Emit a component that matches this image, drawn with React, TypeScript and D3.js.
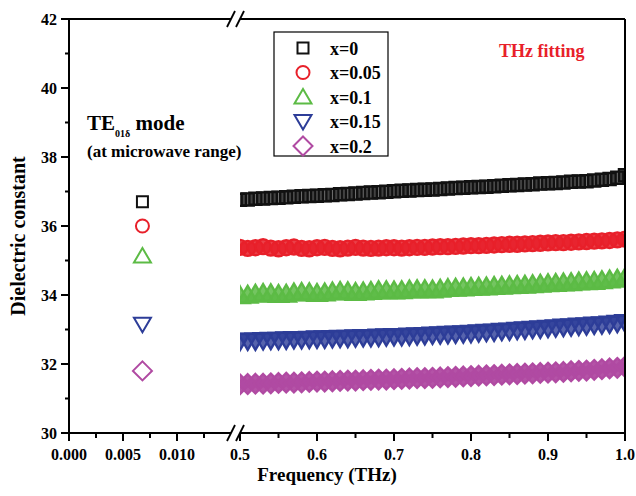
import React from "react";
import * as d3 from "d3";

// ---------- data ----------
const seriesLabels = ["x=0", "x=0.05", "x=0.1", "x=0.15", "x=0.2"];

// microwave (TE01δ) measurement, frequency in THz
const microwaveFreq = [0.0068, 0.0068, 0.0068, 0.0068, 0.0068];
const microwaveValues = [36.7, 36.0, 35.13, 33.15, 31.8];

// THz fitting frequencies
const thzFreq = [
  0.5, 0.51, 0.52, 0.53, 0.54, 0.55, 0.56, 0.57, 0.58, 0.59,
  0.6, 0.61, 0.62, 0.63, 0.64, 0.65, 0.66, 0.67, 0.68, 0.69,
  0.7, 0.71, 0.72, 0.73, 0.74, 0.75, 0.76, 0.77, 0.78, 0.79,
  0.8, 0.81, 0.82, 0.83, 0.84, 0.85, 0.86, 0.87, 0.88, 0.89,
  0.9, 0.91, 0.92, 0.93, 0.94, 0.95, 0.96, 0.97, 0.98, 0.99,
  1.0,
];

const thzX0 = [
  36.76, 36.77, 36.79, 36.8, 36.81, 36.82, 36.83, 36.85, 36.86, 36.87,
  36.88, 36.89, 36.9, 36.92, 36.93, 36.94, 36.96, 36.97, 36.98, 36.99,
  37.01, 37.02, 37.03, 37.04, 37.05, 37.06, 37.07, 37.09, 37.1, 37.11,
  37.12, 37.13, 37.14, 37.15, 37.17, 37.18, 37.19, 37.2, 37.21, 37.23,
  37.24, 37.25, 37.26, 37.28, 37.29, 37.3, 37.32, 37.34, 37.36, 37.4,
  37.47,
];
const thzX005 = [
  35.38, 35.35, 35.37, 35.4, 35.36, 35.34, 35.37, 35.39, 35.35, 35.34,
  35.37, 35.38, 35.35, 35.34, 35.36, 35.38, 35.36, 35.35, 35.36, 35.37,
  35.37, 35.36, 35.37, 35.38, 35.38, 35.39, 35.4, 35.4, 35.41, 35.42,
  35.43, 35.43, 35.44, 35.45, 35.46, 35.47, 35.47, 35.48, 35.49, 35.5,
  35.51, 35.52, 35.52, 35.53, 35.54, 35.55, 35.56, 35.57, 35.58, 35.6,
  35.62,
];
const thzX01 = [
  33.98, 34.0, 34.03, 34.05, 34.04, 34.02, 34.03, 34.06, 34.08, 34.07,
  34.05, 34.06, 34.09, 34.11, 34.1, 34.08, 34.09, 34.11, 34.13, 34.13,
  34.12, 34.13, 34.15, 34.16, 34.16, 34.15, 34.17, 34.19, 34.2, 34.21,
  34.22, 34.23, 34.24, 34.25, 34.26, 34.27, 34.28, 34.29, 34.3, 34.32,
  34.33, 34.34, 34.35, 34.36, 34.38, 34.39, 34.4, 34.42, 34.44, 34.46,
  34.5,
];
const thzX015 = [
  32.66, 32.67, 32.67, 32.68, 32.69, 32.69, 32.7, 32.71, 32.71, 32.72,
  32.73, 32.73, 32.74, 32.75, 32.75, 32.76, 32.77, 32.77, 32.78, 32.79,
  32.8, 32.8, 32.81, 32.82, 32.83, 32.84, 32.85, 32.86, 32.87, 32.88,
  32.89, 32.91, 32.92, 32.93, 32.95, 32.96, 32.98, 32.99, 33.01, 33.02,
  33.04, 33.05, 33.07, 33.08, 33.1, 33.11, 33.13, 33.14, 33.16, 33.18,
  33.2,
];
const thzX02 = [
  31.41, 31.42, 31.43, 31.43, 31.44, 31.45, 31.46, 31.46, 31.47, 31.48,
  31.49, 31.49, 31.5, 31.51, 31.52, 31.52, 31.53, 31.54, 31.55, 31.55,
  31.56, 31.57, 31.58, 31.59, 31.59, 31.6, 31.61, 31.62, 31.63, 31.64,
  31.65, 31.66, 31.67, 31.68, 31.69, 31.7, 31.71, 31.72, 31.73, 31.74,
  31.75, 31.76, 31.77, 31.79, 31.8, 31.81, 31.83, 31.85, 31.87, 31.89,
  31.92,
];
const thzSeries = [thzX0, thzX005, thzX01, thzX015, thzX02];

const yTicksMajor = [30, 32, 34, 36, 38, 40, 42];
const yTicksMinor = [31, 33, 35, 37, 39, 41];
const xMwTicksMajor = [0, 0.005, 0.01];
const xMwTicksMinor = [0.0025, 0.0075, 0.0125];
const xThzTicksMajor = [0.5, 0.6, 0.7, 0.8, 0.9, 1.0];
const xThzTicksMinor = [0.55, 0.65, 0.75, 0.85, 0.95];

// ---------- styles ----------
const colors = ["#111111", "#e8202a", "#5cbb45", "#2d3d98", "#b04aa2"];
const shapes = ["square", "circle", "triUp", "triDown", "diamond"];
const bandScale = [1.1, 1.15, 1.15, 1.12, 1.02];
const bandFill = [0.55, 0.85, 0.85, 0.8, 0.95];
const FONT = "Liberation Serif, Times New Roman, DejaVu Serif, serif";

function shapePath(shape: string, s: number): string {
  switch (shape) {
    case "square":
      return `M${-5.5 * s},${-5.5 * s}h${11 * s}v${11 * s}h${-11 * s}Z`;
    case "circle": {
      const r = 6.5 * s;
      return `M${-r},0a${r},${r} 0 1,0 ${2 * r},0a${r},${r} 0 1,0 ${-2 * r},0Z`;
    }
    case "triUp":
      return `M0,${-8 * s}L${8.5 * s},${6.5 * s}L${-8.5 * s},${6.5 * s}Z`;
    case "triDown":
      return `M0,${8 * s}L${8.5 * s},${-6.5 * s}L${-8.5 * s},${-6.5 * s}Z`;
    case "diamond":
      return `M0,${-9.5 * s}L${9.5 * s},0L0,${9.5 * s}L${-9.5 * s},0Z`;
  }
  return "";
}

export default function App() {
  const W = 636;
  const H = 496;
  const left = 69;
  const right = 625;
  const top = 19;
  const bottom = 433;
  const brk1 = 231;
  const brk2 = 240;

  const y = d3.scaleLinear().domain([30, 42]).range([bottom, top]);
  const xMw = d3.scaleLinear().domain([0, 0.015]).range([left, brk1]);
  const xThz = d3.scaleLinear().domain([0.5, 1.0]).range([brk2, right]);

  const fmtMw = d3.format(".3f");
  const fmtThz = d3.format(".1f");

  const slash = (cx: number, cy: number, k: string) => (
    <line key={k} x1={cx - 4} y1={cy + 8} x2={cx + 4} y2={cy - 8} stroke="#000" strokeWidth={1.8} />
  );

  return (
    <svg
      width={W}
      height={H}
      viewBox={`0 0 ${W} ${H}`}
      style={{
        position: "absolute",
        left: 0,
        top: 0,
        display: "block",
        background: "#fff",
        fontFamily: FONT,
        fontWeight: "bold",
      }}
    >
      <defs>
        <clipPath id="thzClip">
          <rect x={brk2} y={top} width={right - brk2} height={bottom - top} />
        </clipPath>
      </defs>
      <rect x={0} y={0} width={W} height={H} fill="#fff" />

      {/* THz fitting series */}
      <g clipPath="url(#thzClip)">
        {thzSeries.map((vals, si) => (
          <g
            key={si}
            fill={colors[si]}
            fillOpacity={bandFill[si]}
            stroke={colors[si]}
            strokeWidth={2.4}
          >
            {vals.map((v, i) => (
              <path
                key={i}
                d={shapePath(shapes[si], bandScale[si])}
                transform={`translate(${xThz(thzFreq[i])},${y(v)})`}
              />
            ))}
          </g>
        ))}
      </g>

      {/* microwave points */}
      {microwaveValues.map((v, i) => (
        <path
          key={i}
          d={shapePath(shapes[i], 1)}
          transform={`translate(${xMw(microwaveFreq[i])},${y(v)})`}
          fill="none"
          stroke={colors[i]}
          strokeWidth={2}
        />
      ))}

      {/* axes frame */}
      <g stroke="#000" strokeWidth={2} fill="none">
        <line x1={left} y1={top} x2={left} y2={bottom} />
        <line x1={right} y1={top} x2={right} y2={bottom} />
        <line x1={left} y1={bottom} x2={brk1} y2={bottom} />
        <line x1={brk2} y1={bottom} x2={right} y2={bottom} />
        <line x1={left} y1={top} x2={brk1} y2={top} />
        <line x1={brk2} y1={top} x2={right} y2={top} />
      </g>
      {slash(brk1, bottom, "b1")}
      {slash(brk2, bottom, "b2")}
      {slash(brk1, top, "t1")}
      {slash(brk2, top, "t2")}

      {/* y ticks */}
      <g stroke="#000" strokeWidth={2}>
        {yTicksMajor.map((t) => (
          <line key={t} x1={left - 8} x2={left} y1={y(t)} y2={y(t)} />
        ))}
        {yTicksMinor.map((t) => (
          <line key={t} x1={left - 4} x2={left} y1={y(t)} y2={y(t)} />
        ))}
      </g>
      <g fontSize={16} textAnchor="end">
        {yTicksMajor.map((t) => (
          <text key={t} x={left - 12} y={y(t) + 5.5}>
            {d3.format("d")(t)}
          </text>
        ))}
      </g>

      {/* x ticks */}
      <g stroke="#000" strokeWidth={2}>
        {xMwTicksMajor.map((t) => (
          <line key={"a" + t} x1={xMw(t)} x2={xMw(t)} y1={bottom} y2={bottom + 8} />
        ))}
        {xMwTicksMinor.map((t) => (
          <line key={"b" + t} x1={xMw(t)} x2={xMw(t)} y1={bottom} y2={bottom + 5} />
        ))}
        {xThzTicksMajor.map((t) => (
          <line key={"c" + t} x1={xThz(t)} x2={xThz(t)} y1={bottom} y2={bottom + 8} />
        ))}
        {xThzTicksMinor.map((t) => (
          <line key={"d" + t} x1={xThz(t)} x2={xThz(t)} y1={bottom} y2={bottom + 5} />
        ))}
      </g>
      <g fontSize={16} textAnchor="middle">
        {xMwTicksMajor.map((t) => (
          <text key={"a" + t} x={xMw(t)} y={460}>
            {fmtMw(t)}
          </text>
        ))}
        {xThzTicksMajor.map((t) => (
          <text key={"c" + t} x={xThz(t)} y={460}>
            {fmtThz(t)}
          </text>
        ))}
      </g>

      {/* axis titles */}
      <text x={327} y={481} fontSize={19} textAnchor="middle">
        Frequency (THz)
      </text>
      <text transform={`translate(25,236) rotate(-90)`} fontSize={20} textAnchor="middle">
        Dielectric constant
      </text>

      {/* annotations */}
      <text x={87} y={130} fontSize={21}>
        TE
        <tspan fontSize={10} dy={7}>
          01δ
        </tspan>
        <tspan fontSize={21} dy={-7}>
          {" "}mode
        </tspan>
      </text>
      <text x={87} y={157} fontSize={17}>
        (at microwave range)
      </text>
      <text x={499} y={57} fontSize={18} fill="#e8202a">
        THz fitting
      </text>

      {/* legend */}
      <rect x={274} y={32} width={114} height={124} fill="#fff" stroke="#000" strokeWidth={1.2} />
      {seriesLabels.map((lab, i) => {
        const cy = 48 + i * 24.5;
        return (
          <g key={lab}>
            <path
              d={shapePath(shapes[i], 1)}
              transform={`translate(303,${cy})`}
              fill="none"
              stroke={colors[i]}
              strokeWidth={2}
            />
            <text x={330} y={cy + 6.5} fontSize={18}>
              {lab}
            </text>
          </g>
        );
      })}
    </svg>
  );
}
